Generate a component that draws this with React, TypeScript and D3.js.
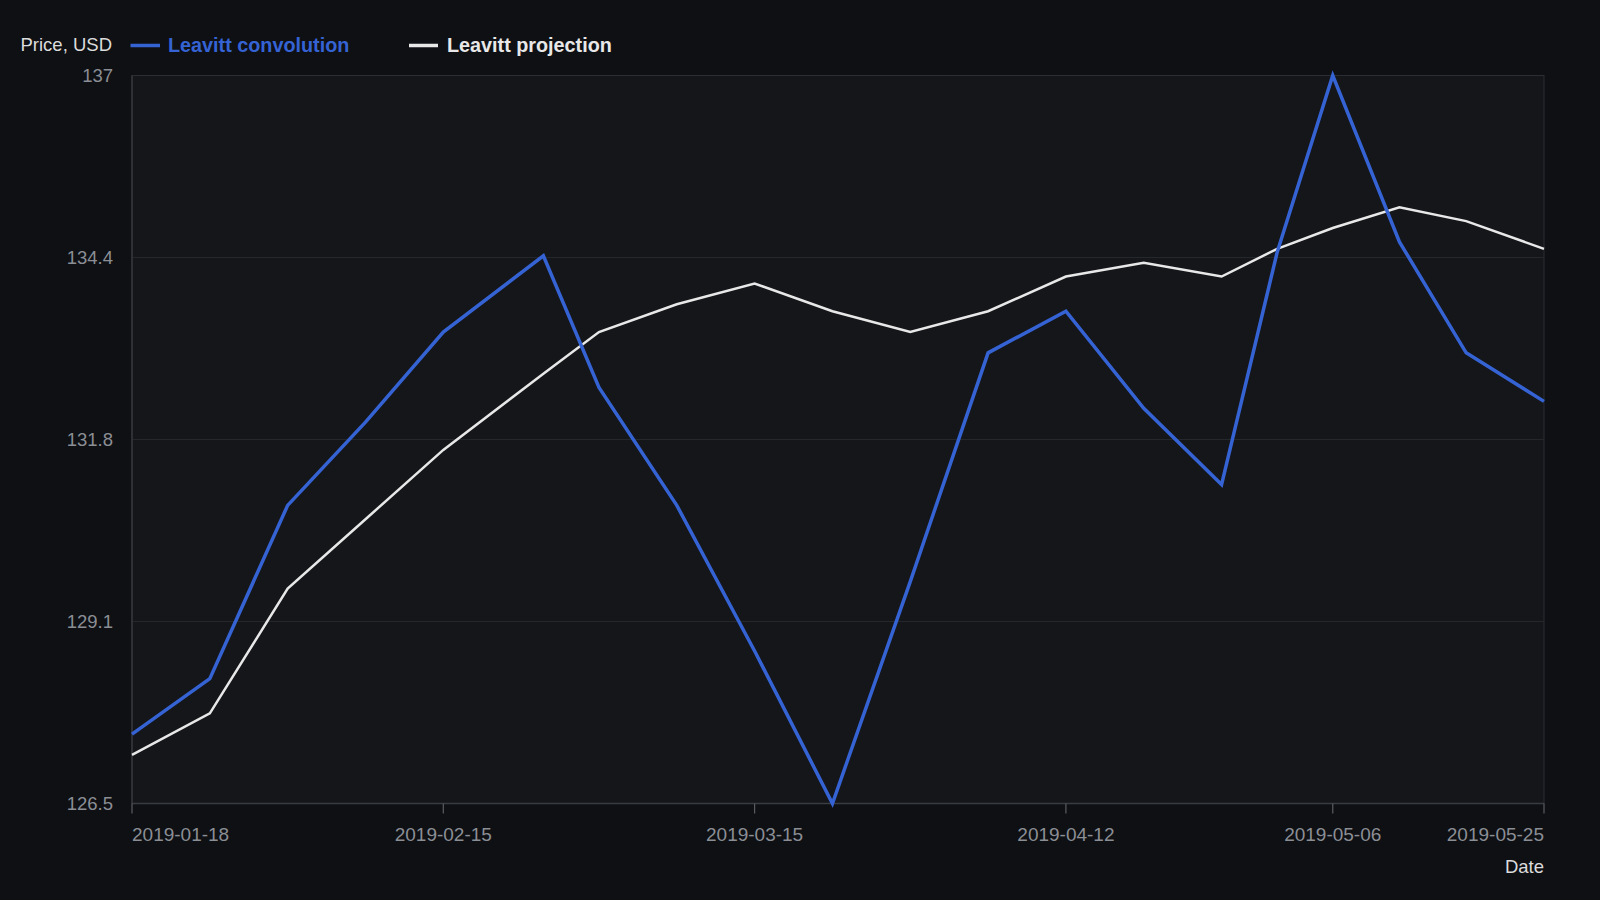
import React, { useEffect } from "react";
import * as d3 from "d3";

const dates = [
  "2019-01-18", "2019-01-25", "2019-02-01", "2019-02-08", "2019-02-15",
  "2019-02-24", "2019-03-01", "2019-03-08", "2019-03-15", "2019-03-22",
  "2019-03-29", "2019-04-05", "2019-04-12", "2019-04-19", "2019-04-26",
  "2019-05-01", "2019-05-06", "2019-05-12", "2019-05-18", "2019-05-25",
];
const convolution = [
  127.5, 128.3, 130.8, 132.0, 133.3, 134.4, 132.5, 130.8, 128.7, 126.5,
  129.7, 133.0, 133.6, 132.2, 131.1, 134.45, 137.0, 134.6, 133.0, 132.3,
];
const projection = [
  127.2, 127.8, 129.6, 130.6, 131.6, 132.7, 133.3, 133.7, 134.0, 133.6,
  133.3, 133.6, 134.1, 134.3, 134.1, 134.5, 134.8, 135.1, 134.9, 134.5,
];
const xTickLabels = ["2019-01-18", "2019-02-15", "2019-03-15", "2019-04-12", "2019-05-06", "2019-05-25"];
const yMin = 126.5;
const yMax = 137;
const yTickCount = 5;
const seriesNames = ["Leavitt convolution", "Leavitt projection"];
const yAxisTitle = "Price, USD";
const xAxisTitle = "Date";

const W = 1600;
const H = 900;
const M = { left: 132, right: 56, top: 75.5, bottom: 96.5 };
const FONT = "'Liberation Sans', Arial, Helvetica, sans-serif";
const BLUE = "#3563d4";
const WHITE = "#e8e8e8";

export default function App() {
  useEffect(() => {
    document.body.style.margin = "0";
    document.body.style.background = "#0e1014";
  }, []);

  const parse = d3.utcParse("%Y-%m-%d");
  const xDates = dates.map((d) => parse(d) as Date);
  const x = d3
    .scaleUtc()
    .domain([xDates[0], xDates[xDates.length - 1]])
    .range([M.left, W - M.right]);
  const y = d3.scaleLinear().domain([yMin, yMax]).range([H - M.bottom, M.top]);
  const yTicks = d3.range(yTickCount).map((i) => yMin + (i * (yMax - yMin)) / (yTickCount - 1));
  const fmtY = (v: number) => String(Number(v.toFixed(1)));

  const line = d3
    .line<number>()
    .x((_, i) => x(xDates[i]))
    .y((v) => y(v));

  const plotL = M.left;
  const plotR = W - M.right;
  const plotT = M.top;
  const plotB = H - M.bottom;

  return (
    <svg width={W} height={H} style={{ position: "absolute", left: 0, top: 0, display: "block" }} fontFamily={FONT}>
      <rect x={0} y={0} width={W} height={H} fill="#0e1014" />
      <rect x={plotL} y={plotT} width={plotR - plotL} height={plotB - plotT} fill="#14161a" stroke="#2a2d33" strokeWidth={1} />
      {yTicks.map((t, i) => (
        <g key={"y" + i}>
          {i > 0 && i < yTicks.length - 1 && (
            <line x1={plotL} x2={plotR} y1={y(t)} y2={y(t)} stroke="#24272c" strokeWidth={1} />
          )}
          <text x={113} y={y(t)} dy="0.36em" textAnchor="end" fill="#8b8e94" fontSize={18.5}>
            {fmtY(t)}
          </text>
        </g>
      ))}
      <line x1={plotL} x2={plotL} y1={plotT} y2={plotB} stroke="#393c42" strokeWidth={1.2} />
      <line x1={plotL} x2={plotR} y1={plotB} y2={plotB} stroke="#393c42" strokeWidth={1.5} />
      {xTickLabels.map((d, i) => {
        const px = x(parse(d) as Date);
        const anchor = i === 0 ? "start" : i === xTickLabels.length - 1 ? "end" : "middle";
        return (
          <g key={"x" + i}>
            <line x1={px} x2={px} y1={plotB} y2={plotB + 10} stroke="#5a5d63" strokeWidth={1.2} />
            <text x={px} y={841} textAnchor={anchor} fill="#8b8e94" fontSize={19}>
              {d}
            </text>
          </g>
        );
      })}
      <text x={plotR} y={873} textAnchor="end" fill="#dcdcdc" fontSize={18.5}>
        {xAxisTitle}
      </text>

      <path d={line(projection) || ""} fill="none" stroke={WHITE} strokeWidth={2.5} strokeLinejoin="miter" />
      <path d={line(convolution) || ""} fill="none" stroke={BLUE} strokeWidth={3.5} strokeLinejoin="miter" />

      <text x={20.5} y={51} fill="#dcdcdc" fontSize={18.5}>
        {yAxisTitle}
      </text>
      <line x1={130.5} x2={160} y1={45.5} y2={45.5} stroke={BLUE} strokeWidth={3.5} />
      <text x={168} y={52} fill={BLUE} fontSize={19.8} fontWeight="bold">
        {seriesNames[0]}
      </text>
      <line x1={409} x2={438} y1={45.5} y2={45.5} stroke={WHITE} strokeWidth={3.5} />
      <text x={447} y={52} fill={WHITE} fontSize={19.8} fontWeight="bold">
        {seriesNames[1]}
      </text>
    </svg>
  );
}
